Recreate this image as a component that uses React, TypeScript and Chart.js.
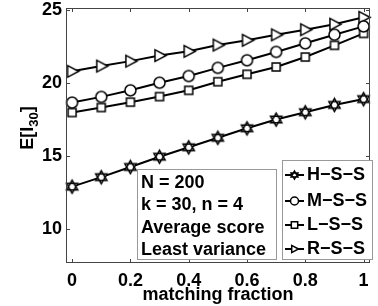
import React, { useEffect, useRef } from "react";
import { Chart, registerables } from "chart.js";
Chart.register(...registerables);

const fractions = [0, 0.1, 0.2, 0.3, 0.4, 0.5, 0.6, 0.7, 0.8, 0.9, 1];
const hss = [12.9, 13.55, 14.25, 14.95, 15.6, 16.25, 16.9, 17.5, 18.0, 18.5, 18.9];
const mss = [18.66, 19.05, 19.5, 20.02, 20.48, 21.04, 21.56, 22.13, 22.72, 23.31, 23.88];
const lss = [17.98, 18.32, 18.69, 19.07, 19.5, 20.09, 20.6, 21.1, 21.78, 22.58, 23.4];
const rss = [20.8, 21.16, 21.5, 21.88, 22.17, 22.6, 22.93, 23.3, 23.65, 24.03, 24.5];
const seriesLabels = ["H−S−S", "M−S−S", "L−S−S", "R−S−S"];
const xTicks = [0, 0.2, 0.4, 0.6, 0.8, 1];
const yTicks = [10, 15, 20, 25];
const infoLines = ["N = 200", "k = 30, n = 4", "Average score", "Least variance"];

const FONT = "'Liberation Sans', Arial, sans-serif";

function drawMarker(ctx: CanvasRenderingContext2D, kind: string, x: number, y: number, s: number) {
  ctx.save();
  ctx.strokeStyle = "#000";
  ctx.fillStyle = "#fff";
  ctx.lineWidth = 1.5;
  ctx.beginPath();
  if (kind === "hex") {
    const r = s;
    for (let t = 0; t < 2; t++) {
      const off = t === 0 ? -Math.PI / 2 : Math.PI / 2;
      for (let i = 0; i < 3; i++) {
        const a = off + (i * 2 * Math.PI) / 3;
        const px = x + r * Math.cos(a);
        const py = y + r * Math.sin(a);
        if (i === 0) ctx.moveTo(px, py);
        else ctx.lineTo(px, py);
      }
      ctx.closePath();
    }
    ctx.fill();
    ctx.stroke();
  } else if (kind === "circle") {
    ctx.arc(x, y, s, 0, Math.PI * 2);
    ctx.fill();
    ctx.stroke();
  } else if (kind === "square") {
    ctx.rect(x - s * 0.8, y - s * 0.8, s * 1.6, s * 1.6);
    ctx.fill();
    ctx.stroke();
  } else {
    ctx.moveTo(x + s, y);
    ctx.lineTo(x - s * 0.7, y - s * 0.9);
    ctx.lineTo(x - s * 0.7, y + s * 0.9);
    ctx.closePath();
    ctx.fill();
    ctx.stroke();
  }
  ctx.restore();
}

function markerCanvas(kind: string, s: number) {
  const size = Math.ceil(s * 2 + 4);
  const c = document.createElement("canvas");
  c.width = size;
  c.height = size;
  const ctx = c.getContext("2d")!;
  drawMarker(ctx, kind, size / 2, size / 2, s);
  return c;
}

const kinds = ["hex", "circle", "square", "tri"];
const markerSizes = [6.5, 5.5, 5, 6.5];

const decorPlugin = {
  id: "decor",
  afterDraw(chart: any) {
    const ctx: CanvasRenderingContext2D = chart.ctx;
    const { left, right, top, bottom } = chart.chartArea;
    const xs = chart.scales.x;
    const ys = chart.scales.y;
    ctx.save();
    // frame
    ctx.strokeStyle = "#444";
    ctx.lineWidth = 1;
    ctx.strokeRect(Math.round(left) + 0.5, Math.round(top) + 0.5, Math.round(right - left) - 1, Math.round(bottom - top) - 1);
    // inner ticks
    ctx.beginPath();
    xTicks.forEach((v) => {
      const px = Math.round(xs.getPixelForValue(v)) + 0.5;
      ctx.moveTo(px, bottom);
      ctx.lineTo(px, bottom - 4);
      ctx.moveTo(px, top);
      ctx.lineTo(px, top + 4);
    });
    yTicks.forEach((v) => {
      const py = Math.round(ys.getPixelForValue(v)) + 0.5;
      ctx.moveTo(left, py);
      ctx.lineTo(left + 4, py);
      ctx.moveTo(right, py);
      ctx.lineTo(right - 4, py);
    });
    ctx.stroke();

    // info box
    ctx.fillStyle = "#fff";
    ctx.strokeStyle = "#999";
    ctx.fillRect(137, 169, 139, 90);
    ctx.strokeRect(137.5, 169.5, 139, 90);
    ctx.fillStyle = "#000";
    ctx.font = `bold 18px ${FONT}`;
    ctx.textBaseline = "middle";
    ctx.textAlign = "left";
    const infoY = [183, 205, 228, 250];
    infoLines.forEach((t, i) => ctx.fillText(t, 141, infoY[i]));

    // legend box
    ctx.fillStyle = "#fff";
    ctx.fillRect(282, 160, 90, 99);
    ctx.strokeRect(282.5, 160.5, 90, 99);
    const legY = [175, 201, 225, 249];
    seriesLabels.forEach((t, i) => {
      ctx.strokeStyle = "#000";
      ctx.lineWidth = 2;
      ctx.beginPath();
      ctx.moveTo(285, legY[i]);
      ctx.lineTo(304, legY[i]);
      ctx.stroke();
      drawMarker(ctx, kinds[i], 294.5, legY[i], 4);
      ctx.fillStyle = "#000";
      ctx.fillText(t, 307, legY[i]);
    });

    // y title
    ctx.save();
    ctx.translate(28, 128);
    ctx.rotate(-Math.PI / 2);
    ctx.textAlign = "left";
    ctx.textBaseline = "middle";
    const p1 = "E[I";
    const sub = "30";
    const p3 = "]";
    ctx.font = `bold 18px ${FONT}`;
    const w1 = ctx.measureText(p1).width;
    const w3 = ctx.measureText(p3).width;
    ctx.font = `bold 13px ${FONT}`;
    const w2 = ctx.measureText(sub).width;
    const total = w1 + w2 + w3;
    let cx = -total / 2;
    ctx.font = `bold 18px ${FONT}`;
    ctx.fillText(p1, cx, 0);
    cx += w1;
    ctx.font = `bold 13px ${FONT}`;
    ctx.fillText(sub, cx, 6);
    cx += w2;
    ctx.font = `bold 18px ${FONT}`;
    ctx.fillText(p3, cx, 0);
    ctx.restore();
    ctx.restore();
  },
};

export default function App() {
  const ref = useRef<HTMLCanvasElement | null>(null);
  useEffect(() => {
    document.body.style.margin = "0";
    const all = [hss, mss, lss, rss];
    const chart = new Chart(ref.current!, {
      type: "line",
      data: {
        datasets: all.map((vals, i) => ({
          label: seriesLabels[i],
          data: fractions.map((f, j) => ({ x: f, y: vals[j] })),
          borderColor: "#000",
          borderWidth: 2,
          pointStyle: markerCanvas(kinds[i], markerSizes[i]) as any,
          pointRadius: 6,
          clip: false as any,
        })),
      },
      options: {
        responsive: false,
        animation: false,
        devicePixelRatio: 1,
        layout: { padding: { top: 0, right: 2, left: 0, bottom: 0 } },
        plugins: { legend: { display: false }, tooltip: { enabled: false } },
        scales: {
          x: {
            type: "linear",
            min: -0.021,
            max: 1.022,
            afterBuildTicks: (s: any) => {
              s.ticks = xTicks.map((v) => ({ value: v }));
            },
            afterFit: (s: any) => {
              s.height = 43;
              s.paddingLeft = 0;
              s.paddingRight = 0;
            },
            grid: { display: false, drawTicks: false },
            border: { display: false },
            ticks: {
              color: "#000",
              font: { family: FONT, size: 18, weight: "bold" },
              padding: 7,
              maxRotation: 0,
              autoSkip: false,
              callback: (v: any) => String(v),
            },
            title: {
              display: true,
              text: "matching fraction",
              color: "#000",
              font: { family: FONT, size: 18, weight: "bold" },
              padding: 0,
            },
          },
          y: {
            type: "linear",
            min: 7.67,
            max: 25.14,
            afterBuildTicks: (s: any) => {
              s.ticks = yTicks.map((v) => ({ value: v }));
            },
            afterFit: (s: any) => {
              s.width = 66;
              s.paddingTop = 8;
              s.paddingBottom = 0;
            },
            grid: { display: false, drawTicks: false },
            border: { display: false },
            ticks: {
              color: "#000",
              font: { family: FONT, size: 18, weight: "bold" },
              padding: 4,
              autoSkip: false,
            },
          },
        },
      },
      plugins: [decorPlugin],
    });
    return () => chart.destroy();
  }, []);
  return (
    <div style={{ width: 378, height: 306, background: "#fff" }}>
      <canvas ref={ref} width={378} height={306} style={{ display: "block" }} />
    </div>
  );
}
